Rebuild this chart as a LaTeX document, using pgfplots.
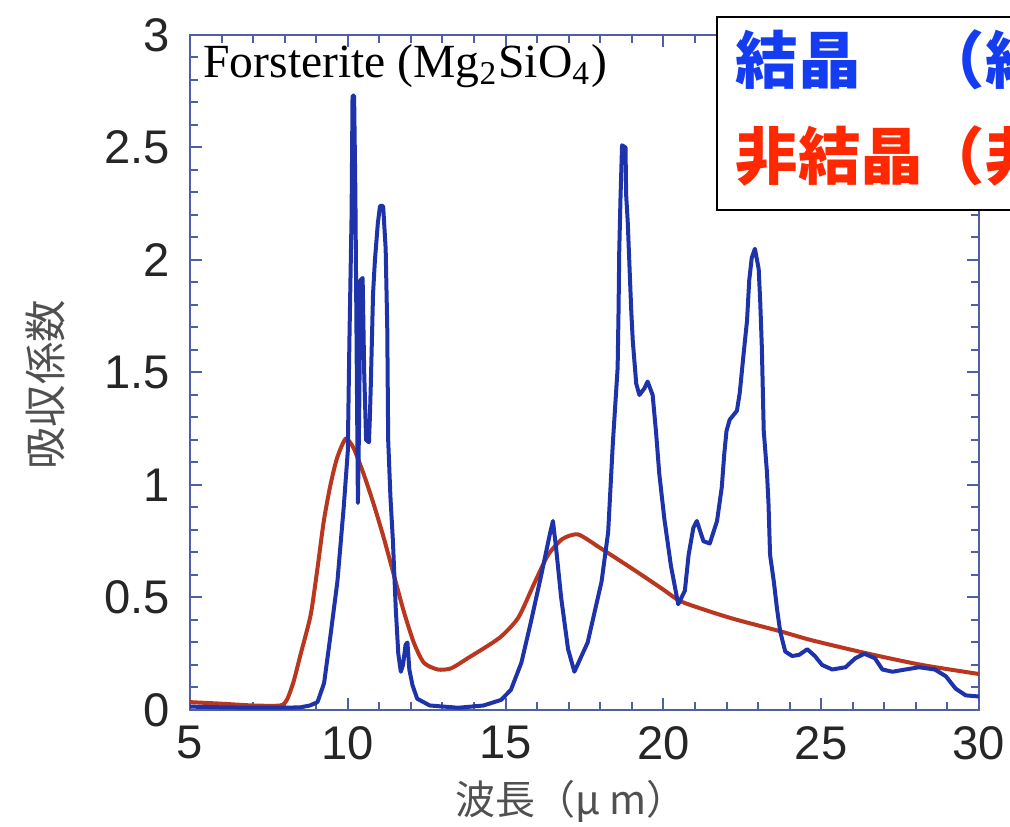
\documentclass[border=0pt]{standalone}
\usepackage{fontspec}
\usepackage{pgfplots}
\pgfplotsset{compat=1.18}
\setmainfont{Liberation Sans}
\newfontfamily\seriffont{Liberation Serif}
\newfontfamily\cjk{Noto Sans CJK JP}
\definecolor{axiscol}{RGB}{80,95,165}
\definecolor{bluecurve}{RGB}{30,50,170}
\definecolor{redcurve}{RGB}{185,55,30}
\definecolor{legblue}{RGB}{20,60,240}
\definecolor{legred}{RGB}{255,40,0}
\definecolor{labgray}{RGB}{80,80,80}
\begin{document}
\begin{tikzpicture}[x=0.25pt,y=0.25pt]
\useasboundingbox (-190,-117) rectangle (820,710);
\clip (-190,-117) rectangle (820,710);
\begin{axis}[
  at={(0,0)}, anchor=south west,
  scale only axis, width=197.25pt, height=168.75pt,
  xmin=5, xmax=30, ymin=0, ymax=3,
  xtick={5,10,...,30}, ytick={0,0.5,1,1.5,2,2.5,3},
  minor x tick num=4, minor y tick num=4,
  tick align=inside, xtick pos=both, ytick pos=both,
  major tick length=3pt, minor tick length=2pt,
  every tick/.style={axiscol, line width=0.5pt},
  axis line style={axiscol, line width=0.5pt},
  /pgf/number format/assume math mode=true,
  tick label style={font=\fontsize{11.8}{13.5}\selectfont, text=black!85},
  yticklabel style={xshift=-1.5pt},
  xticklabel style={yshift=-0.5pt},
  clip=true,
]
\addplot[redcurve, line width=1pt, smooth, tension=0.4] coordinates {
(5.0,0.035) (6.0,0.028) (7.0,0.02) (7.86,0.02) (8.07,0.045) (8.28,0.125)
(8.5,0.245) (8.82,0.42) (9.03,0.62) (9.24,0.84) (9.45,1.0) (9.66,1.12)
(9.93,1.205) (10.18,1.165) (10.5,1.05) (10.82,0.915) (11.14,0.765)
(11.46,0.60) (11.77,0.44) (12.09,0.30) (12.41,0.21) (12.85,0.18)
(13.27,0.185) (13.8,0.23) (14.8,0.32) (15.4,0.41) (15.9,0.56)
(16.35,0.69) (16.8,0.76) (17.3,0.78) (18.0,0.72) (19.1,0.62)
(20.0,0.535) (20.6,0.48) (22.1,0.41) (23.7,0.35) (24.7,0.31)
(26.5,0.25) (28.2,0.20) (30.0,0.16)
};
\addplot[bluecurve, line width=1pt, line join=round] coordinates {
(5.0,0.015) (6.0,0.012) (7.0,0.01) (8.0,0.01) (8.5,0.012) (8.8,0.02)
(9.04,0.035) (9.25,0.12) (9.45,0.33) (9.67,0.57) (9.87,0.9) (10.0,1.15)
(10.05,1.63) (10.12,2.2) (10.15,2.73) (10.2,2.73) (10.24,2.3) (10.28,1.6)
(10.32,0.92) (10.36,1.3) (10.4,1.91) (10.47,1.92) (10.52,1.5) (10.58,1.2)
(10.67,1.19) (10.7,1.3) (10.73,1.45) (10.8,1.85) (10.86,2.0) (10.95,2.16)
(11.02,2.24) (11.12,2.24) (11.2,2.05) (11.25,1.7) (11.28,1.2) (11.35,0.95)
(11.43,0.75) (11.52,0.45) (11.6,0.25) (11.68,0.17) (11.75,0.2) (11.83,0.29)
(11.89,0.30) (11.95,0.18) (12.05,0.11) (12.2,0.05) (12.6,0.02) (13.5,0.01)
(14.3,0.02) (14.86,0.045) (15.17,0.09) (15.5,0.21) (15.8,0.39) (16.13,0.6)
(16.4,0.78) (16.5,0.84) (16.6,0.72) (16.76,0.5) (16.98,0.27) (17.18,0.17)
(17.6,0.3) (18.04,0.57) (18.25,0.79) (18.4,1.19) (18.55,1.52) (18.58,1.78)
(18.6,2.03) (18.64,2.27) (18.69,2.51) (18.8,2.5) (18.82,2.29) (18.87,2.17)
(18.98,1.78) (19.03,1.64) (19.14,1.45) (19.24,1.40) (19.4,1.43) (19.5,1.46)
(19.66,1.40) (19.77,1.23) (19.87,1.05) (20.03,0.85) (20.24,0.64) (20.47,0.47)
(20.68,0.53) (20.8,0.69) (20.95,0.81) (21.06,0.84) (21.27,0.75) (21.47,0.74)
(21.7,0.84) (21.85,0.99) (21.93,1.14) (22.0,1.24) (22.1,1.29) (22.33,1.33)
(22.42,1.41) (22.54,1.58) (22.65,1.73) (22.72,1.91) (22.8,2.01) (22.9,2.05)
(23.02,1.96) (23.07,1.81) (23.12,1.61) (23.18,1.24) (23.28,1.06) (23.33,0.92)
(23.38,0.69) (23.5,0.57) (23.6,0.45) (23.7,0.35) (23.86,0.26) (24.08,0.24)
(24.3,0.245) (24.56,0.27) (24.8,0.24) (25.03,0.20) (25.35,0.18) (25.77,0.19)
(26.08,0.23) (26.37,0.25) (26.7,0.23) (26.94,0.18) (27.26,0.17) (27.67,0.18)
(28.1,0.19) (28.6,0.18) (28.95,0.15) (29.26,0.095) (29.58,0.065) (30.0,0.06)
};
\node[anchor=base west, inner sep=0pt, font=\seriffont\fontsize{11.9}{14}\selectfont]
  at (axis cs:5.4,2.81) {Forsterite (Mg\textsubscript{2}SiO\textsubscript{4})};
\end{axis}
% axis labels
\node[rotate=90, inner sep=0pt, text=labgray, font=\cjk\fontsize{10.6}{12}\selectfont]
  at (-145,325) {吸収係数};
\node[inner sep=0pt, text=labgray, font=\cjk\fontsize{10}{12}\selectfont]
  at (381,-91) {波長（μ m）};
% legend box (cut off at the right edge, as in the reference)
\draw[fill=white, draw=black, line width=0.4pt] (527,500) rectangle (850,693);
\node[anchor=west, inner sep=0pt, text=legblue, font=\cjk\bfseries\fontsize{15.6}{18}\selectfont]
  at (545,650) {結晶　（結晶質）};
\node[anchor=west, inner sep=0pt, text=legred, font=\cjk\bfseries\fontsize{15.6}{18}\selectfont]
  at (545,554) {非結晶（非晶質）};
\end{tikzpicture}
\end{document}
